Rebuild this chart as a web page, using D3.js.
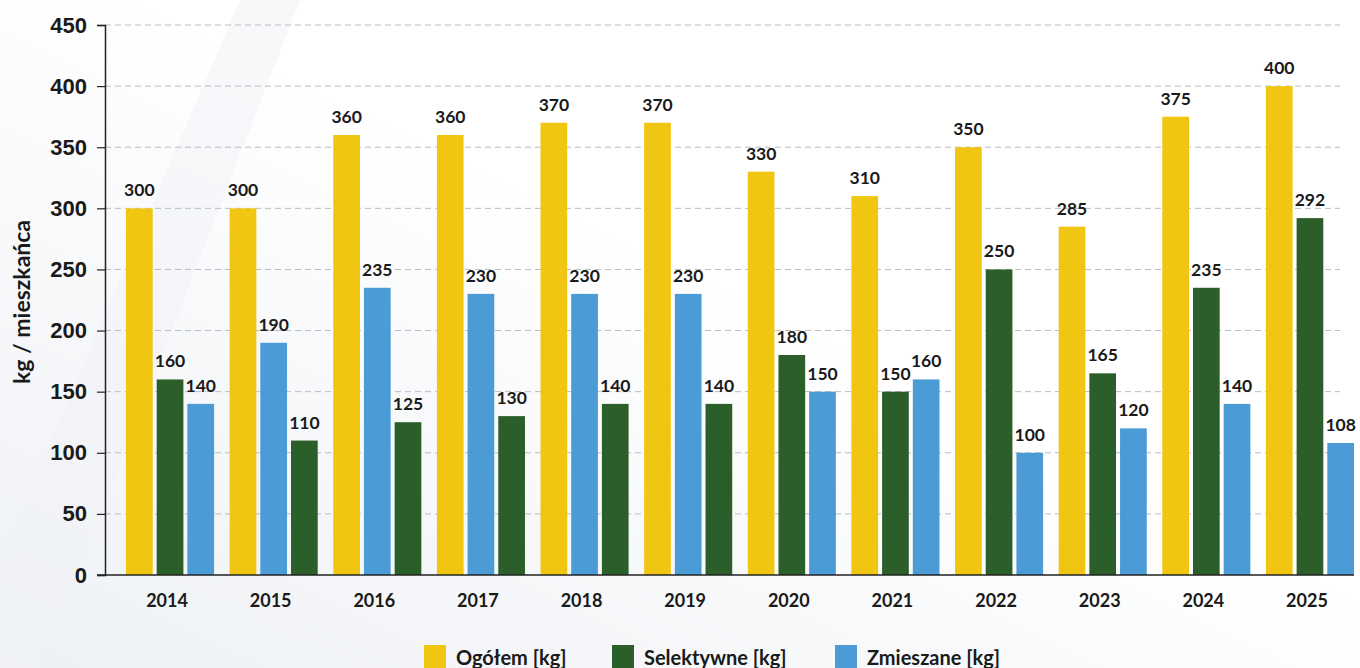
<!DOCTYPE html>
<html lang="pl">
<head>
<meta charset="utf-8">
<script src="https://cdn.jsdelivr.net/npm/d3@7"></script>
<style>
  html, body { margin: 0; padding: 0; background: #fff; }
  svg { display: block; font-family: Lato, "Open Sans", sans-serif; }
  .tick-label { font-size: 22px; font-weight: 700; fill: #1a1a1a; }
  .year-label { font-size: 18px; font-weight: 700; fill: #1a1a1a; }
  .value-label { font-size: 17.5px; font-weight: 700; fill: #1a1a1a; }
  .legend-label { font-size: 20px; font-weight: 700; fill: #1a1a1a; }
  .axis-title { font-size: 23px; font-weight: 700; fill: #1a1a1a; }
</style>
</head>
<body>
<div id="chart"></div>
<script>
const years = ['2014', '2015', '2016', '2017', '2018', '2019', '2020', '2021', '2022', '2023', '2024', '2025'];
const ogolem = [300, 300, 360, 360, 370, 370, 330, 310, 350, 285, 375, 400];
const selektywne = [160, 110, 125, 130, 140, 140, 180, 150, 250, 165, 235, 292];
const zmieszane = [140, 190, 235, 230, 230, 230, 150, 160, 100, 120, 140, 108];
// in these years the blue bar sits before the green one
const swappedYears = ['2015', '2016', '2017', '2018', '2019'];
const yTicks = [0, 50, 100, 150, 200, 250, 300, 350, 400, 450];

const series = [
  { key: 'ogolem', name: 'Ogółem [kg]', color: '#f1c612', values: ogolem },
  { key: 'selektywne', name: 'Selektywne [kg]', color: '#2b5e28', values: selektywne },
  { key: 'zmieszane', name: 'Zmieszane [kg]', color: '#4b9bd7', values: zmieszane },
];

const width = 1360, height = 668;
const svg = d3.select('#chart').append('svg')
  .attr('width', width)
  .attr('height', height);

// faint background swoosh
const defs = svg.append('defs');
const bg = defs.append('linearGradient').attr('id', 'bg')
  .attr('x1', '0').attr('y1', '1').attr('x2', '1').attr('y2', '0');
bg.append('stop').attr('offset', '0').attr('stop-color', '#eef1f4');
bg.append('stop').attr('offset', '0.3').attr('stop-color', '#f7f8fa');
bg.append('stop').attr('offset', '0.55').attr('stop-color', '#ffffff');
svg.append('rect').attr('width', width).attr('height', height).attr('fill', 'url(#bg)');
svg.append('path')
  .attr('d', 'M0,560 L240,0 L300,0 L40,668 L0,668 Z')
  .attr('fill', '#f0f2f5').attr('opacity', 0.5);

const x0 = 105;
const y = d3.scaleLinear().domain([0, 450]).range([575, 25]);
const x = d3.scaleBand().domain(years).range([126, 1354]).paddingInner(0.15).paddingOuter(0);
const slot = d3.scaleBand().domain([0, 1, 2]).range([0, x.bandwidth()]).paddingInner(0.13);

// grid
svg.append('g')
  .selectAll('line')
  .data(yTicks.filter(d => d > 0))
  .join('line')
  .attr('x1', x0).attr('x2', 1340)
  .attr('y1', d => y(d)).attr('y2', d => y(d))
  .attr('stroke', '#b9bcc0')
  .attr('stroke-width', 1)
  .attr('stroke-dasharray', '6,4');

// y axis
const yAxis = svg.append('g')
  .attr('transform', `translate(${x0},0)`)
  .call(d3.axisLeft(y).tickValues(yTicks).tickSize(8).tickPadding(10));
yAxis.select('.domain').attr('stroke', '#222').attr('stroke-width', 1.5);
yAxis.selectAll('.tick line').attr('stroke', '#222').attr('stroke-width', 1.2);
yAxis.selectAll('.tick text').attr('class', 'tick-label').attr('font-family', null).attr('font-size', null);

svg.append('text')
  .attr('class', 'axis-title')
  .attr('transform', 'translate(30,302) rotate(-90)')
  .attr('text-anchor', 'middle')
  .text('kg / mieszkańca');

function slotOf(year, key) {
  if (key === 'ogolem') return 0;
  const swapped = swappedYears.includes(year);
  if (key === 'selektywne') return swapped ? 2 : 1;
  return swapped ? 1 : 2;
}

const bars = [];
years.forEach((year, i) => {
  for (const s of series) {
    bars.push({ year, key: s.key, color: s.color, value: s.values[i], pos: slotOf(year, s.key) });
  }
});

svg.append('g')
  .selectAll('rect')
  .data(bars)
  .join('rect')
  .attr('x', d => x(d.year) + slot(d.pos))
  .attr('y', d => y(d.value))
  .attr('width', slot.bandwidth())
  .attr('height', d => y(0) - y(d.value))
  .attr('fill', d => d.color);

svg.append('g')
  .selectAll('text')
  .data(bars)
  .join('text')
  .attr('class', 'value-label')
  .attr('x', d => x(d.year) + slot(d.pos) + slot.bandwidth() / 2)
  .attr('y', d => y(d.value) - 12)
  .attr('text-anchor', 'middle')
  .text(d => d.value);

// baseline
svg.append('line')
  .attr('x1', 97).attr('x2', 1354)
  .attr('y1', y(0)).attr('y2', y(0))
  .attr('stroke', '#222').attr('stroke-width', 1.5);

svg.append('g')
  .selectAll('text')
  .data(years)
  .join('text')
  .attr('class', 'year-label')
  .attr('x', d => x(d) + x.bandwidth() / 2 - 3)
  .attr('y', 607)
  .attr('text-anchor', 'middle')
  .text(d => d);

// legend
const legendX = [424, 612, 835];
const legend = svg.append('g')
  .selectAll('g')
  .data(series)
  .join('g')
  .attr('transform', (d, i) => `translate(${legendX[i]},645)`);
legend.append('rect')
  .attr('width', 22).attr('height', 26)
  .attr('fill', d => d.color);
legend.append('text')
  .attr('class', 'legend-label')
  .attr('x', 32).attr('y', 20)
  .text(d => d.name);
</script>
</body>
</html>
